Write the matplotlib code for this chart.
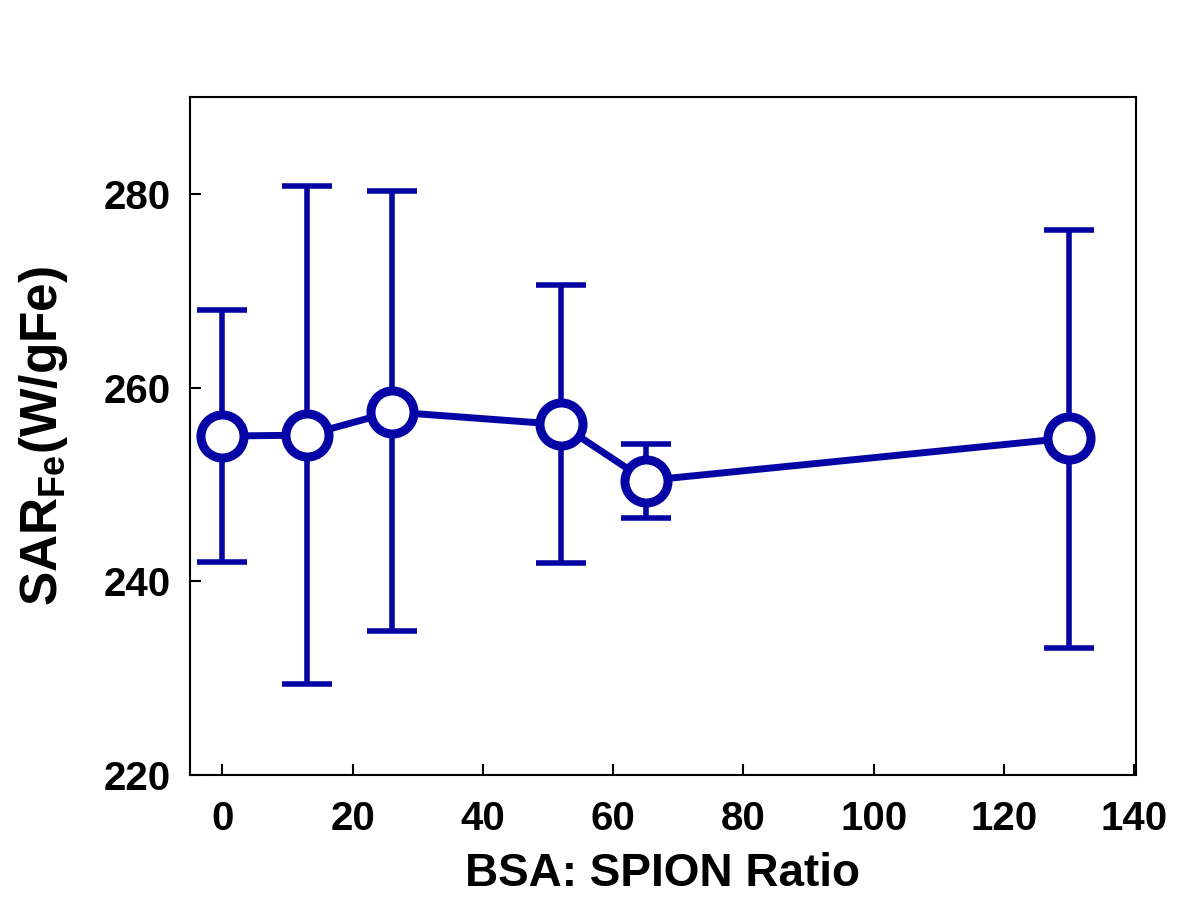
import matplotlib
matplotlib.use("Agg")
import matplotlib.pyplot as plt

ratio = [0, 13, 26, 52, 65, 130]
sar = [255.0, 255.1, 257.5, 256.2, 250.4, 254.8]
err_upper = [268.0, 280.8, 280.3, 270.6, 254.2, 276.3]
err_lower = [242.0, 229.4, 234.9, 241.9, 246.5, 233.1]

xticks = [0, 20, 40, 60, 80, 100, 120, 140]
yticks = [220, 240, 260, 280]

color = "#0505a5"
plt.rcParams['font.family'] = ['Liberation Sans', 'DejaVu Sans']
plt.rcParams['font.weight'] = 'bold'
plt.rcParams['mathtext.fontset'] = 'custom'
plt.rcParams['mathtext.bf'] = 'Liberation Sans:bold'
plt.rcParams['mathtext.rm'] = 'Liberation Sans:bold'
plt.rcParams['mathtext.default'] = 'bf'

fig = plt.figure(figsize=(11.86, 9.01), dpi=100)
ax = fig.add_axes([0.160, 0.140, 0.798, 0.752])

yerr = [[s - l for s, l in zip(sar, err_lower)], [u - s for s, u in zip(sar, err_upper)]]
ax.errorbar(ratio, sar, yerr=yerr, fmt='none', ecolor=color, elinewidth=4,
            capsize=18, capthick=4, zorder=2)
ax.plot(ratio, sar, '-', color=color, lw=5, zorder=3)
ax.plot(ratio, sar, 'o', ms=31, mfc='white', mec=color, mew=6.5, zorder=4)

ax.set_xlim(-5, 140.3)
ax.set_ylim(220, 290)
ax.set_xticks(xticks)
ax.set_yticks(yticks)
ax.tick_params(direction='in', length=8, width=1.5, labelsize=29,
               top=False, right=False)
ax.tick_params(axis='y', pad=14)
ax.tick_params(axis='x', pad=18)
for lab in ax.get_xticklabels() + ax.get_yticklabels():
    lab.set_fontweight('bold')
for sp in ax.spines.values():
    sp.set_linewidth(1.5)

ax.set_xlabel('BSA: SPION Ratio', fontsize=33, fontweight='bold', labelpad=10)
ax.set_ylabel(r'SAR$_{\mathbf{Fe}}$(W/gFe)', fontsize=37, fontweight='bold', labelpad=24)

fig.savefig('out.png', dpi=100)
